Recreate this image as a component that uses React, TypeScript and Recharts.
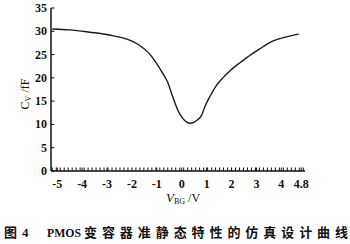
import { LineChart, Line, XAxis, YAxis } from 'recharts';

// gate voltage V_BG (V) and capacitance Cv (fF)
const vbg = [-5.2, -4.5, -3.7, -2.9, -2.2, -1.7, -1.3, -1.0, -0.8, -0.56, -0.36, -0.16, 0.04, 0.2, 0.34, 0.5, 0.64, 0.8, 0.92, 1.12, 1.41, 1.65, 1.95, 2.35, 2.6, 3.1, 3.65, 4.2, 4.7];
const cv = [30.5, 30.3, 29.8, 29.2, 28.3, 27.0, 25.2, 23.0, 21.3, 19.0, 15.9, 13.1, 11.3, 10.5, 10.25, 10.5, 11.0, 12.0, 13.7, 15.9, 18.5, 20.0, 21.6, 23.3, 24.3, 26.1, 27.9, 28.8, 29.4];

const xMajorTicks = [-5, -4, -3, -2, -1, 0, 1, 2, 3, 4, 4.8];
const yTicks = [0, 5, 10, 15, 20, 25, 30, 35];
const rightTicks = [5, 10, 15, 20, 25, 30];

const data = vbg.map((v, i) => ({ vbg: v, cv: cv[i] }));

const X_DOMAIN: [number, number] = [-5.25, 4.95];
const PLOT_LEFT = 51;
const PLOT_RIGHT = 305;
const PLOT_BOTTOM = 171;

// small inward ticks along the bottom edge
const minorTicks: number[] = [];
for (let v = -5.2; v < 4.95; v += 0.16) minorTicks.push(Math.round(v * 100) / 100);
const xTicks = Array.from(new Set([...minorTicks, ...xMajorTicks])).sort((a, b) => a - b);

const serif = '"Liberation Serif", "Times New Roman", serif';
const cjk = '"Noto Sans CJK SC", sans-serif';

const XTick = (props: any) => {
  const { x, payload } = props;
  const v = payload.value;
  const major = xMajorTicks.includes(v);
  return (
    <g>
      <line x1={x} x2={x} y1={PLOT_BOTTOM} y2={PLOT_BOTTOM - 3.5} stroke="#111" strokeWidth={1} />
      {major && (
        <text x={x} y={188} textAnchor="middle" fontFamily={serif} fontWeight={700} fontSize={12} fill="#111">
          {String(v)}
        </text>
      )}
    </g>
  );
};

const YTick = (props: any) => {
  const { y, payload } = props;
  return (
    <g>
      <line x1={PLOT_LEFT} x2={PLOT_LEFT + 3.5} y1={y} y2={y} stroke="#111" strokeWidth={1} />
      <text x={47} y={y + 4} textAnchor="end" fontFamily={serif} fontWeight={700} fontSize={12} fill="#111">
        {payload.value}
      </text>
    </g>
  );
};

const RightTick = (props: any) => {
  const { y } = props;
  return <line x1={PLOT_RIGHT} x2={PLOT_RIGHT - 3.5} y1={y} y2={y} stroke="#111" strokeWidth={1} />;
};

export default function App() {
  return (
    <div style={{ position: 'absolute', left: 0, top: 0, width: 350, height: 244, background: '#fff' }}>
      <LineChart width={350} height={244} data={data} margin={{ top: 8, right: 45, left: 0, bottom: 43 }}>
        <XAxis
          dataKey="vbg"
          type="number"
          domain={X_DOMAIN}
          ticks={xTicks}
          interval={0}
          tick={<XTick />}
          tickLine={false}
          height={30}
          axisLine={{ stroke: '#111', strokeWidth: 1.5 }}
        />
        <XAxis
          xAxisId="top"
          orientation="top"
          type="number"
          domain={X_DOMAIN}
          height={0}
          tick={false}
          tickLine={false}
          axisLine={{ stroke: '#111', strokeWidth: 2 }}
        />
        <YAxis
          type="number"
          domain={[0, 35]}
          ticks={yTicks}
          interval={0}
          width={51}
          tick={<YTick />}
          tickLine={false}
          axisLine={{ stroke: '#111', strokeWidth: 1.5 }}
        />
        <YAxis
          yAxisId="right"
          orientation="right"
          type="number"
          domain={[0, 35]}
          ticks={rightTicks}
          interval={0}
          width={0}
          tick={<RightTick />}
          tickLine={false}
          axisLine={{ stroke: '#111', strokeWidth: 1.5 }}
        />
        <Line
          type="monotone"
          dataKey="cv"
          stroke="#1a1a1a"
          strokeWidth={1.4}
          dot={false}
          isAnimationActive={false}
        />
      </LineChart>

      {/* axis titles and figure caption */}
      <svg
        width={350}
        height={244}
        style={{ position: 'absolute', left: 0, top: 0, pointerEvents: 'none' }}
      >
        <text
          transform="translate(29, 94) rotate(-90)"
          textAnchor="middle"
          fontFamily={serif}
          fontSize={12}
          fill="#111"
        >
          C<tspan fontSize={8} dy={2}>V</tspan>
          <tspan dy={-2}> /fF</tspan>
        </text>
        <text x={166} y={202} fontFamily={serif} fontSize={12} fill="#111">
          <tspan fontStyle="italic" fontSize={13}>V</tspan>
          <tspan fontSize={8} dy={2}>BG</tspan>
          <tspan dy={-2}> /V</tspan>
        </text>

        <text x={4} y={237} fontFamily={cjk} fontWeight={700} fontSize={13} fill="#111">图</text>
        <text x={22} y={237} fontFamily={serif} fontWeight={700} fontSize={13} fill="#111">4</text>
        <text x={47} y={237} fontFamily={serif} fontWeight={700} fontSize={13} fill="#111" textLength={34} lengthAdjust="spacingAndGlyphs">
          PMOS
        </text>
        <text x={84} y={237} fontFamily={cjk} fontWeight={700} fontSize={13} fill="#111" textLength={264} lengthAdjust="spacing">
          变容器准静态特性的仿真设计曲线
        </text>
      </svg>
    </div>
  );
}
